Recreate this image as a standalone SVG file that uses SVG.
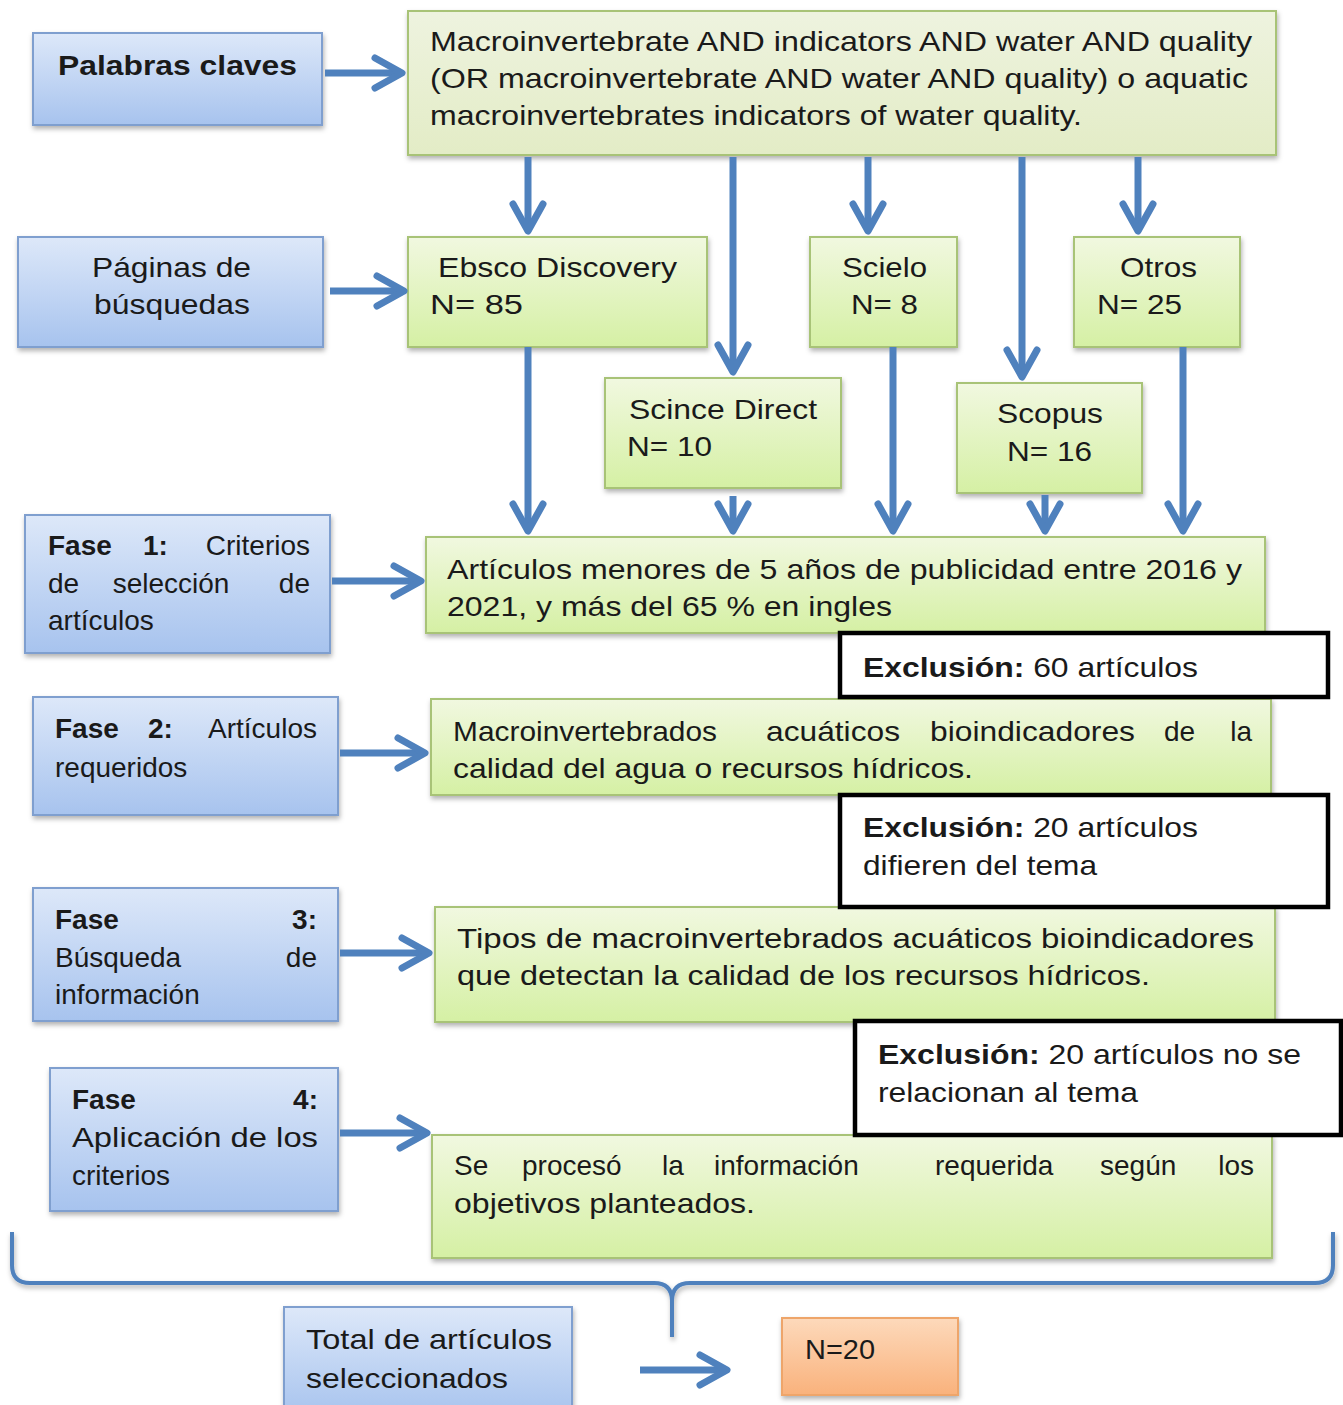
<svg xmlns="http://www.w3.org/2000/svg" width="1343" height="1405" viewBox="0 0 1343 1405">
<defs>
<linearGradient id="gBlue" x1="0" y1="0" x2="0" y2="1"><stop offset="0" stop-color="#dde8f9"/><stop offset="1" stop-color="#a7c3ee"/></linearGradient>
<linearGradient id="gGreenTop" x1="0" y1="0" x2="0" y2="1"><stop offset="0" stop-color="#eef3df"/><stop offset="1" stop-color="#e3ecc6"/></linearGradient>
<linearGradient id="gGreen" x1="0" y1="0" x2="0" y2="1"><stop offset="0" stop-color="#f1f8e0"/><stop offset="1" stop-color="#d5f0a4"/></linearGradient>
<linearGradient id="gOrange" x1="0" y1="0" x2="0" y2="1"><stop offset="0" stop-color="#fdd9bb"/><stop offset="1" stop-color="#f9b27c"/></linearGradient>
<filter id="sh" x="-10%" y="-10%" width="130%" height="140%"><feDropShadow dx="1" dy="3" stdDeviation="2.5" flood-color="#000" flood-opacity="0.3"/></filter>
<marker id="ah" markerUnits="userSpaceOnUse" viewBox="-36 -22 42 44" markerWidth="42" markerHeight="44" refX="0" refY="0" orient="auto">
<path d="M-27,-15 L0,0 L-27,15" fill="none" stroke="#4f81bd" stroke-width="7" stroke-linecap="round" stroke-linejoin="round"/>
</marker>
</defs>
<style>
.blue{fill:url(#gBlue);stroke:#7f9fcf;stroke-width:2;filter:url(#sh)}
.gtop{fill:url(#gGreenTop);stroke:#a8c377;stroke-width:2;filter:url(#sh)}
.green{fill:url(#gGreen);stroke:#a8c377;stroke-width:2;filter:url(#sh)}
.orange{fill:url(#gOrange);stroke:#eea56b;stroke-width:2;filter:url(#sh)}
.excl{fill:#fff;stroke:#000;stroke-width:4.5}
text{font-family:"Liberation Sans",Arial,sans-serif;font-size:28px;fill:#1a1a1a}
.b{font-weight:bold}
.arr{stroke:#4f81bd;stroke-width:7;fill:none;marker-end:url(#ah)}
.brace{stroke:#4f81bd;stroke-width:4;fill:none;filter:url(#sh)}
</style>

<g id="palabras"><rect class="blue" x="33" y="33" width="289" height="92"/>
<text class="b" x="58" y="75" textLength="239" lengthAdjust="spacingAndGlyphs">Palabras claves</text></g>

<g id="paginas"><rect class="blue" x="18" y="237" width="305" height="110"/>
<text x="92" y="277" textLength="159" lengthAdjust="spacingAndGlyphs">Páginas de</text>
<text x="94" y="314" textLength="156" lengthAdjust="spacingAndGlyphs">búsquedas</text></g>

<g id="fase1"><rect class="blue" x="25" y="515" width="305" height="138"/>
<text class="b" x="48" y="555">Fase</text><text class="b" x="143" y="555">1:</text><text x="310" y="555" text-anchor="end">Criterios</text>
<text x="48" y="593">de</text><text x="171" y="593" text-anchor="middle">selección</text><text x="310" y="593" text-anchor="end">de</text>
<text x="48" y="630">artículos</text></g>

<g id="fase2"><rect class="blue" x="33" y="697" width="305" height="118"/>
<text class="b" x="55" y="738">Fase</text><text class="b" x="148" y="738">2:</text><text x="317" y="738" text-anchor="end">Artículos</text>
<text x="55" y="777">requeridos</text></g>

<g id="fase3"><rect class="blue" x="33" y="888" width="305" height="133"/>
<text class="b" x="55" y="929">Fase</text><text class="b" x="317" y="929" text-anchor="end">3:</text>
<text x="55" y="967">Búsqueda</text><text x="317" y="967" text-anchor="end">de</text>
<text x="55" y="1004">información</text></g>

<g id="fase4"><rect class="blue" x="50" y="1068" width="288" height="143"/>
<text class="b" x="72" y="1109">Fase</text><text class="b" x="318" y="1109" text-anchor="end">4:</text>
<text x="72" y="1147" textLength="246" lengthAdjust="spacingAndGlyphs">Aplicación de los</text>
<text x="72" y="1185">criterios</text></g>

<g id="total"><rect class="blue" x="284" y="1307" width="288" height="110"/>
<text x="306" y="1349" textLength="246" lengthAdjust="spacingAndGlyphs">Total de artículos</text>
<text x="306" y="1388" textLength="202" lengthAdjust="spacingAndGlyphs">seleccionados</text></g>

<g id="keywords"><rect class="gtop" x="408" y="11" width="868" height="144"/>
<text x="430" y="51" textLength="822" lengthAdjust="spacingAndGlyphs">Macroinvertebrate AND indicators AND water AND quality</text>
<text x="430" y="88" textLength="818" lengthAdjust="spacingAndGlyphs">(OR macroinvertebrate AND water AND quality) o aquatic</text>
<text x="430" y="125" textLength="652" lengthAdjust="spacingAndGlyphs">macroinvertebrates indicators of water quality.</text></g>

<g id="ebsco"><rect class="green" x="408" y="237" width="299" height="110"/>
<text x="438" y="277" textLength="239" lengthAdjust="spacingAndGlyphs">Ebsco Discovery</text>
<text x="430" y="314" textLength="93" lengthAdjust="spacingAndGlyphs">N=  85</text></g>

<g id="scielo"><rect class="green" x="810" y="237" width="147" height="110"/>
<text x="842" y="277" textLength="85" lengthAdjust="spacingAndGlyphs">Scielo</text>
<text x="851" y="314" textLength="67" lengthAdjust="spacingAndGlyphs">N= 8</text></g>

<g id="otros"><rect class="green" x="1074" y="237" width="166" height="110"/>
<text x="1120" y="277" textLength="77" lengthAdjust="spacingAndGlyphs">Otros</text>
<text x="1097" y="314" textLength="85" lengthAdjust="spacingAndGlyphs">N= 25</text></g>

<g id="scincedirect"><rect class="green" x="605" y="378" width="236" height="110"/>
<text x="629" y="419" textLength="188" lengthAdjust="spacingAndGlyphs">Scince Direct</text>
<text x="627" y="456" textLength="85" lengthAdjust="spacingAndGlyphs">N= 10</text></g>

<g id="scopus"><rect class="green" x="957" y="383" width="185" height="110"/>
<text x="997" y="423" textLength="106" lengthAdjust="spacingAndGlyphs">Scopus</text>
<text x="1007" y="461" textLength="85" lengthAdjust="spacingAndGlyphs">N= 16</text></g>

<g id="criterios"><rect class="green" x="426" y="537" width="839" height="96"/>
<text x="447" y="579" textLength="795" lengthAdjust="spacingAndGlyphs">Artículos menores de 5 años de publicidad entre 2016 y</text>
<text x="447" y="616" textLength="445" lengthAdjust="spacingAndGlyphs">2021, y más del 65 % en ingles</text></g>

<g id="requeridos"><rect class="green" x="431" y="699" width="840" height="96"/>
<text x="453" y="741" textLength="264" lengthAdjust="spacingAndGlyphs">Macroinvertebrados</text><text x="766" y="741" textLength="134" lengthAdjust="spacingAndGlyphs">acuáticos</text><text x="930" y="741" textLength="205" lengthAdjust="spacingAndGlyphs">bioindicadores</text><text x="1164" y="741">de</text><text x="1252" y="741" text-anchor="end">la</text>
<text x="453" y="778" textLength="520" lengthAdjust="spacingAndGlyphs">calidad del agua o recursos hídricos.</text></g>

<g id="tipos"><rect class="green" x="435" y="907" width="840" height="115"/>
<text x="457" y="948" textLength="797" lengthAdjust="spacingAndGlyphs">Tipos de macroinvertebrados  acuáticos bioindicadores</text>
<text x="457" y="985" textLength="693" lengthAdjust="spacingAndGlyphs">que detectan la  calidad de los recursos hídricos.</text></g>

<g id="procesado"><rect class="green" x="432" y="1135" width="840" height="123"/>
<text x="454" y="1175">Se</text><text x="522" y="1175">procesó</text><text x="662" y="1175">la</text><text x="714" y="1175">información</text><text x="935" y="1175">requerida</text><text x="1100" y="1175">según</text><text x="1254" y="1175" text-anchor="end">los</text>
<text x="454" y="1213" textLength="301" lengthAdjust="spacingAndGlyphs">objetivos planteados.</text></g>

<g id="exclusion1"><rect class="excl" x="840" y="633" width="488" height="64"/>
<text x="863" y="677" textLength="335" lengthAdjust="spacingAndGlyphs"><tspan class="b">Exclusión:</tspan> 60 artículos</text></g>

<g id="exclusion2"><rect class="excl" x="840" y="795" width="488" height="112"/>
<text x="863" y="837" textLength="335" lengthAdjust="spacingAndGlyphs"><tspan class="b">Exclusión:</tspan> 20 artículos</text>
<text x="863" y="875" textLength="234" lengthAdjust="spacingAndGlyphs">difieren del tema</text></g>

<g id="exclusion3"><rect class="excl" x="855" y="1021" width="486" height="114"/>
<text x="878" y="1064" textLength="423" lengthAdjust="spacingAndGlyphs"><tspan class="b">Exclusión:</tspan> 20 artículos no se</text>
<text x="878" y="1102" textLength="260" lengthAdjust="spacingAndGlyphs">relacionan al tema</text></g>

<g id="resultado"><rect class="orange" x="782" y="1318" width="176" height="77"/>
<text x="805" y="1359" textLength="70" lengthAdjust="spacingAndGlyphs">N=20</text></g>

<g id="connectors">
<line class="arr" x1="325" y1="73" x2="402" y2="73"/>
<line class="arr" x1="330" y1="291" x2="404" y2="291"/>
<line class="arr" x1="332" y1="581" x2="421" y2="581"/>
<line class="arr" x1="340" y1="753" x2="425" y2="753"/>
<line class="arr" x1="340" y1="953" x2="429" y2="953"/>
<line class="arr" x1="340" y1="1133" x2="427" y2="1133"/>
<line class="arr" x1="640" y1="1370" x2="727" y2="1370"/>
<line class="arr" x1="528" y1="157" x2="528" y2="231"/>
<line class="arr" x1="733" y1="157" x2="733" y2="372"/>
<line class="arr" x1="868" y1="157" x2="868" y2="231"/>
<line class="arr" x1="1022" y1="157" x2="1022" y2="377"/>
<line class="arr" x1="1138" y1="157" x2="1138" y2="231"/>
<line class="arr" x1="528" y1="347" x2="528" y2="531"/>
<line class="arr" x1="733" y1="496" x2="733" y2="531"/>
<line class="arr" x1="893" y1="347" x2="893" y2="531"/>
<line class="arr" x1="1045" y1="495" x2="1045" y2="531"/>
<line class="arr" x1="1183" y1="347" x2="1183" y2="531"/>
<path class="brace" d="M12,1232 L12,1265 Q12,1283 30,1283 L654,1283 Q672,1283 672,1301 L672,1337 M672,1301 Q672,1283 690,1283 L1315,1283 Q1333,1283 1333,1265 L1333,1232"/>
</g>
</svg>
